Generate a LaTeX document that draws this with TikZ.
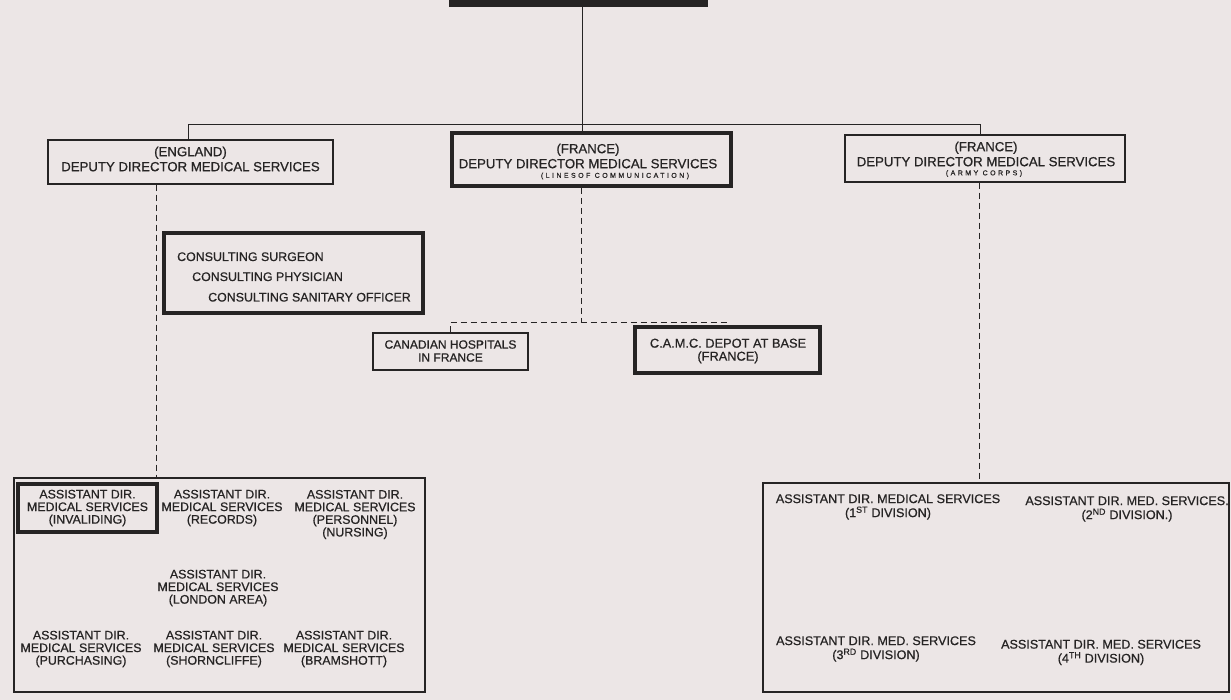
\documentclass[tikz,border=0pt]{standalone}
\usepackage{fontspec}
\setmainfont{Liberation Sans}[FakeBold=0.7]
\definecolor{paper}{RGB}{236,230,230}
\definecolor{ink}{RGB}{38,36,36}
\begin{document}
\begin{tikzpicture}[x=1pt,y=-1pt,
  thinbox/.style={draw=ink, line width=1.1pt, rectangle, inner sep=0pt},
  thickbox/.style={draw=ink, line width=4pt, rectangle, inner sep=0pt},
  hd/.style={font=\fontsize{13.2}{15}\selectfont, text=ink, align=center, inner sep=0pt},
  tx/.style={font=\fontsize{12.4}{12.6}\selectfont, text=ink, align=center, inner sep=0pt},
  txr/.style={font=\fontsize{12.6}{14}\selectfont, text=ink, align=center, inner sep=0pt},
  cons/.style={font=\fontsize{12.4}{14}\selectfont, text=ink, anchor=base west, inner sep=0pt},
  tinytx/.style={font=\fontsize{7}{8}\selectfont\addfontfeatures{LetterSpace=35}, text=ink, inner sep=0pt},
  link/.style={draw=ink, line width=1pt},
  dlink/.style={draw=ink, line width=1pt, dash pattern=on 6pt off 4pt}]

\fill[paper] (0,0) rectangle (1231,700);
\useasboundingbox (0,0) rectangle (1231,700);

% top bar
\node[fill=ink, minimum width=259pt, minimum height=7pt, inner sep=0pt] (top) at (578.5,3.5) {};

% header boxes
\node[thinbox, minimum width=285pt, minimum height=44pt] (eng) at (190.5,162) {};
\node[hd] (engt) at (190.5,159) {(ENGLAND)\\DEPUTY DIRECTOR MEDICAL SERVICES};

\node[thickbox, minimum width=279pt, minimum height=53pt] (loc) at (591.5,159.5) {};
\node[hd] (loct) at (588,156) {(FRANCE)\\DEPUTY DIRECTOR MEDICAL SERVICES};
\node[tinytx] (locs) at (615,176) {(LINESOF COMMUNICATION)};

\node[thinbox, minimum width=280pt, minimum height=47pt] (army) at (985,158.5) {};
\node[hd] (armyt) at (986,154) {(FRANCE)\\DEPUTY DIRECTOR MEDICAL SERVICES};
\node[tinytx] (armys) at (984,173.5) {(ARMY CORPS)};

% tree lines
\coordinate (j0) at (582,125);
\coordinate (jl) at (188,125);
\coordinate (jr) at (980,125);
\draw[link] (top.south -| j0) -- (j0);
\draw[link] (jl |- eng.north) -- (jl) -- (jr) -- (jr |- army.north);
\draw[link] (j0) -- (j0 |- loc.north);

% consulting box
\node[thickbox, minimum width=259pt, minimum height=80pt] (cons) at (293.5,273) {};
\node[cons] (cs1) at (177,261) {CONSULTING SURGEON};
\node[cons] (cs2) at (192,281) {CONSULTING PHYSICIAN};
\node[cons] (cs3) at (208,301.5) {CONSULTING SANITARY OFFICER};

% base boxes
\node[thinbox, minimum width=155pt, minimum height=37pt] (canh) at (450.5,351.5) {};
\node[tx, font=\fontsize{12}{13}\selectfont] (canht) at (450.5,351) {CANADIAN HOSPITALS\\IN FRANCE};
\node[thickbox, minimum width=185pt, minimum height=46pt] (camc) at (727.5,350) {};
\node[tx, font=\fontsize{12.8}{13}\selectfont] (camct) at (728,351) {C.A.M.C. DEPOT AT BASE\\(FRANCE)};

\coordinate (dm) at (581,323);
\coordinate (dml) at (450,323);
\coordinate (dmr) at (728,323);
\draw[dlink] (loc.south -| dm) -- (dm);
\draw[dlink] (canh.north -| dml) -- (dml) -- (dmr) -- (camc.north -| dmr);

% big boxes
\node[thinbox, minimum width=411pt, minimum height=214pt] (lbig) at (219.5,585) {};
\node[thinbox, minimum width=466pt, minimum height=209pt] (rbig) at (996,587.5) {};

\coordinate (dl) at (156,300);
\coordinate (dr) at (979,300);
\draw[dlink] (eng.south -| dl) -- (lbig.north -| dl);
\draw[dlink] (army.south -| dr) -- (rbig.north -| dr);

% left contents
\node[thickbox, minimum width=139pt, minimum height=48pt] (inv) at (87.5,508) {};
\node[tx] (invt) at (87.5,508) {ASSISTANT DIR.\\MEDICAL SERVICES\\(INVALIDING)};
\node[tx] (rect) at (222,508) {ASSISTANT DIR.\\MEDICAL SERVICES\\(RECORDS)};
\node[tx] (pert) at (355,514.5) {ASSISTANT DIR.\\MEDICAL SERVICES\\(PERSONNEL)\\(NURSING)};
\node[tx] (lont) at (218,588) {ASSISTANT DIR.\\MEDICAL SERVICES\\(LONDON AREA)};
\node[tx] (purt) at (81,649) {ASSISTANT DIR.\\MEDICAL SERVICES\\(PURCHASING)};
\node[tx] (shot) at (214,649) {ASSISTANT DIR.\\MEDICAL SERVICES\\(SHORNCLIFFE)};
\node[tx] (brat) at (344,649) {ASSISTANT DIR.\\MEDICAL SERVICES\\(BRAMSHOTT)};

% right contents
\node[txr] (d1) at (888,507) {ASSISTANT DIR. MEDICAL SERVICES\\(1\textsuperscript{ST} DIVISION)};
\node[txr] (d2) at (1127,509) {ASSISTANT DIR. MED. SERVICES.\\(2\textsuperscript{ND} DIVISION.)};
\node[txr] (d3) at (876,649) {ASSISTANT DIR. MED. SERVICES\\(3\textsuperscript{RD} DIVISION)};
\node[txr] (d4) at (1101,652.5) {ASSISTANT DIR. MED. SERVICES\\(4\textsuperscript{TH} DIVISION)};

\end{tikzpicture}
\end{document}
